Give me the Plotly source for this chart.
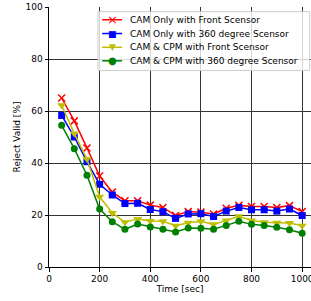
import plotly.graph_objects as go

time_sec = [50, 100, 150, 200, 250, 300, 350, 400, 450, 500, 550, 600, 650, 700, 750, 800, 850, 900, 950, 1000]

cam_front = [65.0, 56.2, 45.8, 35.0, 28.8, 25.5, 25.5, 23.8, 22.9, 19.8, 21.3, 21.1, 20.4, 22.6, 23.7, 23.3, 23.3, 22.9, 23.6, 21.3]
cam_360 = [58.3, 50.0, 40.5, 31.8, 27.7, 24.4, 24.5, 22.1, 21.3, 18.7, 20.4, 20.5, 19.4, 21.5, 22.9, 22.0, 22.0, 21.5, 22.3, 19.8]
cpm_front = [62.2, 51.3, 41.5, 27.0, 20.8, 17.2, 18.5, 17.7, 17.6, 15.9, 17.0, 17.6, 16.4, 17.9, 19.5, 17.9, 17.2, 17.0, 16.9, 15.9]
cpm_360 = [54.5, 45.5, 35.3, 22.3, 17.4, 14.5, 16.5, 15.4, 14.5, 13.5, 15.0, 14.9, 14.5, 16.0, 17.6, 16.4, 16.0, 15.3, 14.3, 13.0]

series_names = ["CAM Only with Front Scensor", "CAM Only with 360 degree Scensor",
                "CAM & CPM with Front Scensor", "CAM & CPM with 360 degree Scensor"]
series_values = [cam_front, cam_360, cpm_front, cpm_360]

# styles
colors = ["#ff0000", "#0000ff", "#bfbf00", "#008000"]
symbols = ["x-thin", "square", "triangle-down", "circle"]
sizes = [7, 7, 8, 7]
key_glyphs = ["\u00d7", "\u25a0", "\u25bc", "\u25cf"]
key_glyph_sizes = [13, 9, 9, 10]

# legend layout (fractions of the plot area)
LEG_BOX = dict(x0=0.187, x1=0.995, y0=0.756, y1=0.982)
LEG_ROWS = [0.951, 0.898, 0.845, 0.793]
LEG_LINE_X = (0.203, 0.279)
LEG_KEY_X = 0.241
LEG_TEXT_X = 0.303

font = dict(family="DejaVu Sans", size=9, color="black")

fig = go.Figure()
for name, vals, color, sym, size in zip(series_names, series_values, colors, symbols, sizes):
    mline = dict(color=color, width=1.5 if sym == "x-thin" else 0)
    fig.add_trace(go.Scatter(
        x=time_sec, y=vals, name=name, mode="lines+markers", showlegend=False,
        line=dict(color=color, width=1.5),
        marker=dict(symbol=sym, size=size, color=color, line=mline),
    ))

# compact legend box
fig.add_shape(type="rect", xref="x domain", yref="y domain", layer="above",
              fillcolor="rgba(255,255,255,0.8)", line=dict(color="#cccccc", width=1),
              **LEG_BOX)
for name, color, glyph, gsize, ry in zip(series_names, colors, key_glyphs, key_glyph_sizes, LEG_ROWS):
    fig.add_shape(type="line", xref="x domain", yref="y domain", layer="above",
                  x0=LEG_LINE_X[0], x1=LEG_LINE_X[1], y0=ry, y1=ry,
                  line=dict(color=color, width=1.5))
    fig.add_annotation(x=LEG_KEY_X, y=ry, xref="x domain", yref="y domain", text=glyph,
                       showarrow=False, xanchor="center", yanchor="middle",
                       font=dict(family="DejaVu Sans", size=gsize, color=color))
    fig.add_annotation(x=LEG_TEXT_X, y=ry, xref="x domain", yref="y domain", text=name,
                       showarrow=False, xanchor="left", yanchor="middle",
                       font=font)

fig.update_layout(
    width=311, height=301,
    margin=dict(l=49, r=0, t=7, b=34),
    paper_bgcolor="white", plot_bgcolor="white",
    font=font,
    showlegend=False,
    xaxis=dict(
        range=[0, 1035], tickvals=[0, 200, 400, 600, 800, 1000],
        showgrid=True, gridcolor="#333333", gridwidth=1,
        showline=True, linecolor="black", linewidth=1,
        ticks="outside", ticklen=3.5, tickcolor="black",
        zeroline=False, mirror=False, automargin=False,
        ticklabeloverflow="allow",
        title=dict(text="Time [sec]", font=font, standoff=0),
    ),
    yaxis=dict(
        range=[0, 100], tickvals=[0, 20, 40, 60, 80, 100],
        showgrid=True, gridcolor="#333333", gridwidth=1,
        showline=True, linecolor="black", linewidth=1,
        ticks="outside", ticklen=3.5, tickcolor="black",
        zeroline=False, mirror=False, automargin=False,
        title=dict(text="Reject Valid [%]", font=font, standoff=3),
    ),
)

fig.write_html("out.html", config={"displayModeBar": False},
               post_script="document.body.style.margin='0';")
